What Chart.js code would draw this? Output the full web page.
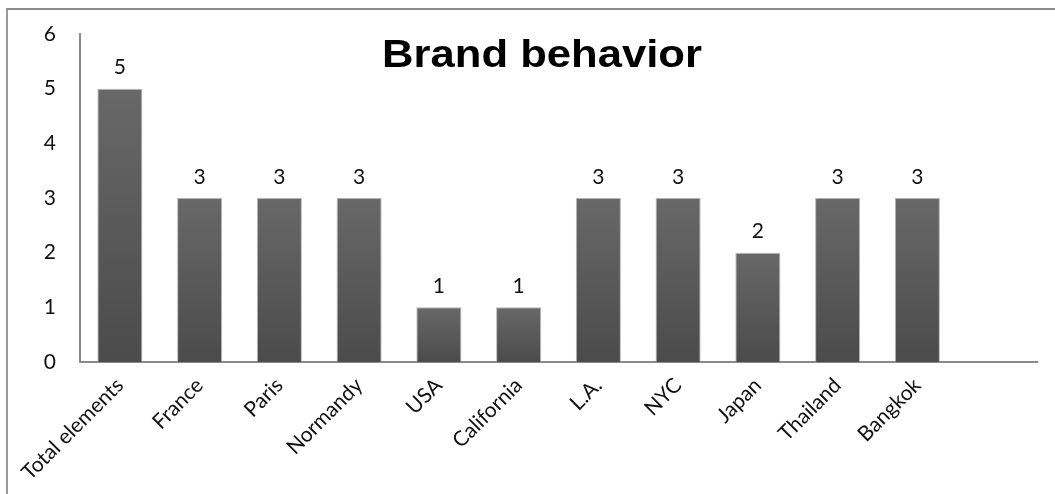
<!DOCTYPE html>
<html>
<head>
<meta charset="utf-8">
<title>Brand behavior</title>
<script src="https://cdn.jsdelivr.net/npm/chart.js@4"></script>
<style>
  html, body { margin: 0; padding: 0; background: #fff; }
  #wrap { position: relative; width: 1055px; height: 494px; overflow: hidden; }
  #frame {
    position: absolute; left: 6px; top: 8px; right: -4px; bottom: -4px;
    border-top: 2px solid #8c8c8c; border-left: 2px solid #9a9a9a;
  }
  #chart { position: absolute; left: 0; top: 0; }
</style>
</head>
<body>
<div id="wrap">
  <div id="frame"></div>
  <canvas id="chart" width="1055" height="494"></canvas>
</div>
<script>
const categories = ["Total elements", "France", "Paris", "Normandy", "USA", "California",
                    "L.A.", "NYC", "Japan", "Thailand", "Bangkok", ""];
const counts = [5, 3, 3, 3, 1, 1, 3, 3, 2, 3, 3, null];
const yTicks = [0, 1, 2, 3, 4, 5, 6];

const labelFont = "Lato, 'Open Sans', sans-serif";

// shaded fill for each bar, lighter at the top
function barFill(ctx) {
  const chart = ctx.chart;
  const y = chart.scales && chart.scales.y;
  if (!chart.chartArea || !y || ctx.raw == null) return '#5a5a5a';
  const top = y.getPixelForValue(ctx.raw);
  const bottom = y.getPixelForValue(0);
  const g = chart.ctx.createLinearGradient(0, top, 0, bottom);
  g.addColorStop(0, '#686868');
  g.addColorStop(1, '#4b4b4b');
  return g;
}

// value printed over each bar
const valueLabels = {
  id: 'valueLabels',
  afterDatasetsDraw(chart) {
    const c = chart.ctx;
    const meta = chart.getDatasetMeta(0);
    c.save();
    c.font = "21px " + labelFont;
    c.fillStyle = '#111';
    c.textAlign = 'center';
    c.textBaseline = 'middle';
    meta.data.forEach((bar, i) => {
      if (counts[i] == null) return;
      c.fillText(String(counts[i]), bar.x, bar.y - 21);
    });
    c.restore();
  }
};

// big title sits inside the plot area, stretched a little wide
const plotTitle = {
  id: 'plotTitle',
  afterDraw(chart) {
    const c = chart.ctx;
    const text = 'Brand behavior';
    c.save();
    c.font = "bold 39px 'Liberation Sans', Arial, sans-serif";
    c.fillStyle = '#000';
    c.textAlign = 'center';
    c.textBaseline = 'alphabetic';
    const w = c.measureText(text).width;
    c.translate(542, 67);
    c.scale(320 / w, 1);
    c.fillText(text, 0, 0);
    c.restore();
  }
};

new Chart(document.getElementById('chart'), {
  type: 'bar',
  data: {
    labels: categories,
    datasets: [{
      data: counts,
      backgroundColor: barFill,
      borderColor: 'rgba(150,150,150,0.7)',
      borderWidth: 1,
      borderSkipped: 'bottom',
      barPercentage: 0.565,
      categoryPercentage: 1.0
    }]
  },
  options: {
    responsive: false,
    animation: false,
    layout: { padding: { top: 34, right: 18, left: 0, bottom: 0 } },
    plugins: {
      legend: { display: false },
      title: { display: false },
      tooltip: { enabled: false }
    },
    scales: {
      x: {
        grid: { display: false, drawTicks: false },
        border: { color: '#8a8a8a', width: 2 },
        ticks: {
          color: '#111',
          font: { family: labelFont, size: 21 },
          minRotation: 45,
          maxRotation: 45,
          padding: 11,
          autoSkip: false
        },
        afterFit(scale) { scale.height = 132; }
      },
      y: {
        min: 0,
        max: 6,
        afterBuildTicks(scale) { scale.ticks = yTicks.map(v => ({ value: v })); },
        grid: { display: false, drawTicks: false },
        border: { color: '#8a8a8a', width: 2 },
        ticks: {
          color: '#111',
          font: { family: labelFont, size: 21 },
          padding: 24
        },
        afterFit(scale) {
          scale.width = 80;
          scale.paddingTop = 0;
          scale.paddingBottom = 0;
        }
      }
    }
  },
  plugins: [valueLabels, plotTitle]
});
</script>
</body>
</html>
